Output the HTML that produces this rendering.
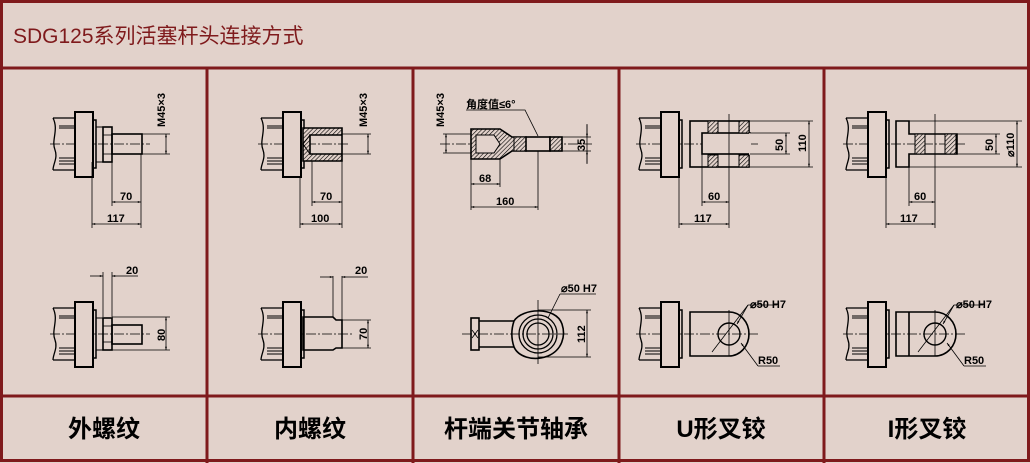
<!DOCTYPE html>
<html><head><meta charset="utf-8"><style>
html,body{margin:0;padding:0;background:#e2d2cb;}
svg{display:block;}
.t{font-family:"Liberation Sans","Noto Sans CJK SC",sans-serif;}
.d{font-family:"Liberation Sans Narrow","Liberation Sans",sans-serif;font-size:11px;font-weight:bold;fill:#000;}
</style></head><body>
<svg width="1030" height="463" viewBox="0 0 1030 463" xmlns="http://www.w3.org/2000/svg">
<defs>
<pattern id="h" width="3" height="3" patternUnits="userSpaceOnUse" patternTransform="rotate(45)"><rect width="3" height="3" fill="#e2d2cb"/><line x1="0" y1="0" x2="0" y2="3" stroke="#000" stroke-width="1.2"/></pattern>
<marker id="a" viewBox="0 0 10 10" refX="10" refY="5" markerWidth="7" markerHeight="4" orient="auto-start-reverse"><path d="M0,2 L10,5 L0,8z" fill="#000"/></marker>
<g id="fl" fill="none" stroke="#000">
<path d="M-22,-26 L0,-26 M-22,26 L0,26 M-22,-26 C-16,-14 -24,-4 -20,6 C-17,14 -22,20 -22,26" stroke-width="1.3"/>
<path d="M-16,-18 L0,-18 M-16,-16 L0,-16 M-16,14 L0,14 M-16,17 L0,17 M-16,20 L0,20" stroke-width="1"/>
<rect x="0" y="-32" width="18" height="65" stroke-width="2" fill="#e2d2cb"/>
<rect x="18" y="-24" width="3" height="48" stroke-width="1.5"/>
</g>
</defs>
<rect x="1.5" y="1.5" width="1027" height="459" fill="#e2d2cb" stroke="#7f1a1c" stroke-width="3"/>
<g stroke="#7f1a1c" stroke-width="3">
<line x1="0" y1="68" x2="1030" y2="68"/><line x1="0" y1="396" x2="1030" y2="396"/>
<line x1="207" y1="68" x2="207" y2="463"/><line x1="413" y1="68" x2="413" y2="463"/>
<line x1="619" y1="68" x2="619" y2="463"/><line x1="824" y1="68" x2="824" y2="463"/>
</g>
<text class="t" x="13" y="43" font-size="21" fill="#7f1a1c">SDG125系列活塞杆头连接方式</text>
<g class="t" font-size="24" font-weight="bold" fill="#000" text-anchor="middle">
<text x="104" y="437">外螺纹</text><text x="310" y="437">内螺纹</text><text x="516" y="437">杆端关节轴承</text><text x="721" y="437">U形叉铰</text><text x="927" y="437">I形叉铰</text>
</g>

<g fill="none" stroke="#000" stroke-width="1">
<g stroke-dasharray="10,2,2,2" stroke-width="0.8">
<line x1="50" y1="144" x2="150" y2="144"/><line x1="50" y1="334" x2="150" y2="334"/>
<line x1="258" y1="144" x2="350" y2="144"/><line x1="258" y1="334" x2="352" y2="334"/>
<line x1="440" y1="144" x2="592" y2="144"/><line x1="462" y1="334" x2="570" y2="334"/>
<line x1="636" y1="144" x2="760" y2="144"/><line x1="636" y1="334" x2="760" y2="334"/>
<line x1="843" y1="144" x2="965" y2="144"/><line x1="843" y1="334" x2="965" y2="334"/>
</g>
</g>
<g>
<use href="#fl" x="75" y="144"/><use href="#fl" x="75" y="334"/>
<use href="#fl" x="283" y="144"/><use href="#fl" x="283" y="334"/>
<use href="#fl" x="661" y="144"/><use href="#fl" x="661" y="334"/>
<use href="#fl" x="868" y="144"/><use href="#fl" x="868" y="334"/>
</g>

<g fill="none" stroke="#000" stroke-width="1.6">
<!-- P1 top -->
<rect x="96" y="127" width="7" height="35" stroke-width="1"/>
<rect x="103" y="127" width="9" height="35"/><line x1="103" y1="135" x2="112" y2="135" stroke-width="0.8"/><line x1="103" y1="154" x2="112" y2="154" stroke-width="0.8"/>
<rect x="112" y="134" width="30" height="20"/>
<!-- P1 bottom -->
<rect x="96" y="318" width="7" height="32" stroke-width="1"/>
<rect x="103" y="318" width="9" height="32"/><line x1="103" y1="326" x2="112" y2="326" stroke-width="0.8"/><line x1="103" y1="342" x2="112" y2="342" stroke-width="0.8"/>
<rect x="112" y="325" width="30" height="19"/>
<!-- P2 top -->
<path d="M303,128 H342 V161 H303 Z M310,135 H342 V154 H310 Z" fill="url(#h)" fill-rule="evenodd"/>
<path d="M310,135 L303,144 L310,154" stroke-width="1"/>
<!-- P2 bottom -->
<path d="M303,317 H333 L336,320 H342 V348 H336 L333,350 H303 Z"/>
<!-- P3 top -->
<path d="M471,129 H500 L512,137 L526,137 V151 L512,151 L500,159 H471 Z" fill="url(#h)"/>
<path d="M476,135 H494 L500,144 L494,153 H476 Z" fill="#e2d2cb" stroke-width="1"/>
<rect x="514" y="137" width="12" height="14" fill="url(#h)" stroke-width="1"/>
<rect x="526" y="137" width="24" height="14" fill="#e2d2cb"/>
<rect x="550" y="137" width="12" height="14" fill="url(#h)"/>
<!-- P3 bottom -->
<rect x="471" y="318" width="8" height="32"/><path d="M472,330 L478,338 M478,330 L472,338" stroke-width="0.8"/>
<path d="M479,321 H514 M479,347 H514"/>
<path d="M514,321 C522,308 556,306 562,324 C566,336 562,350 548,356 C532,362 518,356 514,347 C511,338 511,330 514,321 Z"/>
<circle cx="538" cy="334" r="19" stroke-width="1.3"/><circle cx="538" cy="334" r="15" stroke-width="1.3"/><circle cx="538" cy="334" r="11" stroke-width="1.3"/>
<!-- P4 top -->
<rect x="690" y="121" width="59" height="46" stroke-width="1.6"/>
<rect x="702" y="133" width="48" height="21" fill="#e2d2cb" stroke="#000"/>
<line x1="750" y1="133" x2="750" y2="155" stroke="#e2d2cb" stroke-width="2"/>
<rect x="708" y="121" width="10" height="12" fill="url(#h)" stroke-width="1"/><rect x="739" y="121" width="10" height="12" fill="url(#h)" stroke-width="1"/>
<rect x="708" y="155" width="10" height="12" fill="url(#h)" stroke-width="1"/><rect x="739" y="155" width="10" height="12" fill="url(#h)" stroke-width="1"/>
<!-- P4 bottom -->
<path d="M690,312 H729 A20,22 0 0 1 729,356 H690 Z"/>
<circle cx="729" cy="334" r="11" stroke-width="1.4"/>
<!-- P5 top -->
<path d="M896,121 H909 V134 H957 V154 H909 V167 H896 Z"/>
<rect x="915" y="134" width="10" height="20" fill="url(#h)" stroke-width="1"/><rect x="945" y="134" width="11" height="20" fill="url(#h)" stroke-width="1"/>
<!-- P5 bottom -->
<path d="M896,312 H935 A21,22 0 0 1 935,356 H896 Z"/><line x1="909" y1="312" x2="909" y2="356"/>
<circle cx="935" cy="334" r="11" stroke-width="1.4"/>
</g>

<g fill="none" stroke="#000" stroke-width="0.8">
<!-- P1 -->
<path d="M92,162 V228 M141,154 V228 M112,162 V206 M142,134 H170 M142,154 H170 M112,317 H170 M112,350 H170 M103,317 V272 M112,317 V272"/>
<line x1="112" y1="202" x2="141" y2="202" marker-start="url(#a)" marker-end="url(#a)"/>
<line x1="92" y1="224" x2="141" y2="224" marker-start="url(#a)" marker-end="url(#a)"/>
<line x1="166" y1="134" x2="166" y2="154" marker-start="url(#a)" marker-end="url(#a)"/>
<line x1="166" y1="317" x2="166" y2="350" marker-start="url(#a)" marker-end="url(#a)"/>
<line x1="90" y1="276" x2="103" y2="276" marker-end="url(#a)"/><line x1="124" y1="276" x2="112" y2="276" marker-end="url(#a)"/><line x1="124" y1="276" x2="138" y2="276"/>
<!-- P2 -->
<path d="M300,177 V228 M342,161 V228 M312,161 V206 M342,134 H371 M342,154 H371 M342,320 H371 M342,348 H371 M333,317 V276 M342,320 V276"/>
<line x1="312" y1="202" x2="342" y2="202" marker-start="url(#a)" marker-end="url(#a)"/>
<line x1="300" y1="224" x2="342" y2="224" marker-start="url(#a)" marker-end="url(#a)"/>
<line x1="368" y1="134" x2="368" y2="154" marker-start="url(#a)" marker-end="url(#a)"/>
<line x1="368" y1="320" x2="368" y2="348" marker-start="url(#a)" marker-end="url(#a)"/>
<line x1="320" y1="277" x2="333" y2="277" marker-end="url(#a)"/><line x1="354" y1="277" x2="342" y2="277" marker-end="url(#a)"/><line x1="354" y1="277" x2="368" y2="277"/>
<!-- P3 -->
<path d="M443,134 H471 M443,153 H471 M471,159 V210 M500,159 V187 M538,151 V210 M562,137 H591 M562,151 H591 M538,310 H591 M538,357 H591 M538,300 V364"/>
<line x1="446" y1="134" x2="446" y2="153" marker-start="url(#a)" marker-end="url(#a)"/>
<line x1="471" y1="184" x2="500" y2="184" marker-start="url(#a)" marker-end="url(#a)"/>
<line x1="471" y1="207" x2="538" y2="207" marker-start="url(#a)" marker-end="url(#a)"/>
<line x1="587" y1="124" x2="587" y2="164"/><line x1="587" y1="125" x2="587" y2="137" marker-end="url(#a)"/><line x1="587" y1="163" x2="587" y2="151" marker-end="url(#a)"/>
<line x1="587" y1="310" x2="587" y2="357" marker-start="url(#a)" marker-end="url(#a)"/>
<path d="M466,110 H525 L538,136"/><path d="M560,294 H596 M560,294 L548,318"/>
<!-- P4 -->
<path d="M749,121 H813 M749,167 H813 M750,133 H790 M750,154 H790 M679,177 V228 M702,154 V206 M729,114 V228"/>
<line x1="786" y1="133" x2="786" y2="154" marker-start="url(#a)" marker-end="url(#a)"/>
<line x1="809" y1="121" x2="809" y2="167" marker-start="url(#a)" marker-end="url(#a)"/>
<line x1="702" y1="202" x2="729" y2="202" marker-start="url(#a)" marker-end="url(#a)"/>
<line x1="679" y1="224" x2="729" y2="224" marker-start="url(#a)" marker-end="url(#a)"/>
<path d="M729,310 V356"/>
<path d="M748,305 H777 M748,305 L712,352"/><line x1="748" y1="305" x2="737" y2="324" marker-end="url(#a)"/>
<path d="M758,366 H780 L758,366"/><line x1="758" y1="366" x2="741" y2="343" marker-end="url(#a)"/>
<!-- P5 -->
<path d="M957,134 H1000 M957,154 H1000 M909,121 H1022 M909,167 H1022 M886,177 V228 M909,154 V206 M935,114 V228"/>
<line x1="996" y1="134" x2="996" y2="154" marker-start="url(#a)" marker-end="url(#a)"/>
<line x1="1017" y1="121" x2="1017" y2="167" marker-start="url(#a)" marker-end="url(#a)"/>
<line x1="909" y1="202" x2="935" y2="202" marker-start="url(#a)" marker-end="url(#a)"/>
<line x1="886" y1="224" x2="935" y2="224" marker-start="url(#a)" marker-end="url(#a)"/>
<path d="M935,310 V356"/>
<path d="M954,305 H983 M954,305 L918,352"/><line x1="954" y1="305" x2="943" y2="324" marker-end="url(#a)"/>
<path d="M964,366 H986"/><line x1="964" y1="366" x2="947" y2="343" marker-end="url(#a)"/>
</g>

<g class="d">
<text x="120" y="200">70</text><text x="107" y="222">117</text><text x="126" y="274">20</text>
<text transform="translate(165,127) rotate(-90)">M45×3</text><text transform="translate(165,341) rotate(-90)">80</text>
<text x="320" y="200">70</text><text x="311" y="222">100</text><text x="355" y="274">20</text>
<text transform="translate(367,127) rotate(-90)">M45×3</text><text transform="translate(367,340) rotate(-90)">70</text>
<text transform="translate(444,127) rotate(-90)">M45×3</text>
<text x="466" y="108" font-family="'Liberation Sans','Noto Sans CJK SC',sans-serif">角度值≤6°</text>
<text x="479" y="182">68</text><text x="496" y="205">160</text>
<text transform="translate(585,151) rotate(-90)">35</text>
<text transform="translate(585,343) rotate(-90)">112</text>
<text x="561" y="292">⌀50 H7</text>
<text transform="translate(783,151) rotate(-90)">50</text><text transform="translate(806,152) rotate(-90)">110</text>
<text x="708" y="200">60</text><text x="694" y="222">117</text>
<text x="750" y="308">⌀50 H7</text><text x="758" y="364">R50</text>
<text transform="translate(993,151) rotate(-90)">50</text><text transform="translate(1014,157) rotate(-90)">⌀110</text>
<text x="914" y="200">60</text><text x="900" y="222">117</text>
<text x="956" y="308">⌀50 H7</text><text x="964" y="364">R50</text>
</g>
</svg>
</body></html>
